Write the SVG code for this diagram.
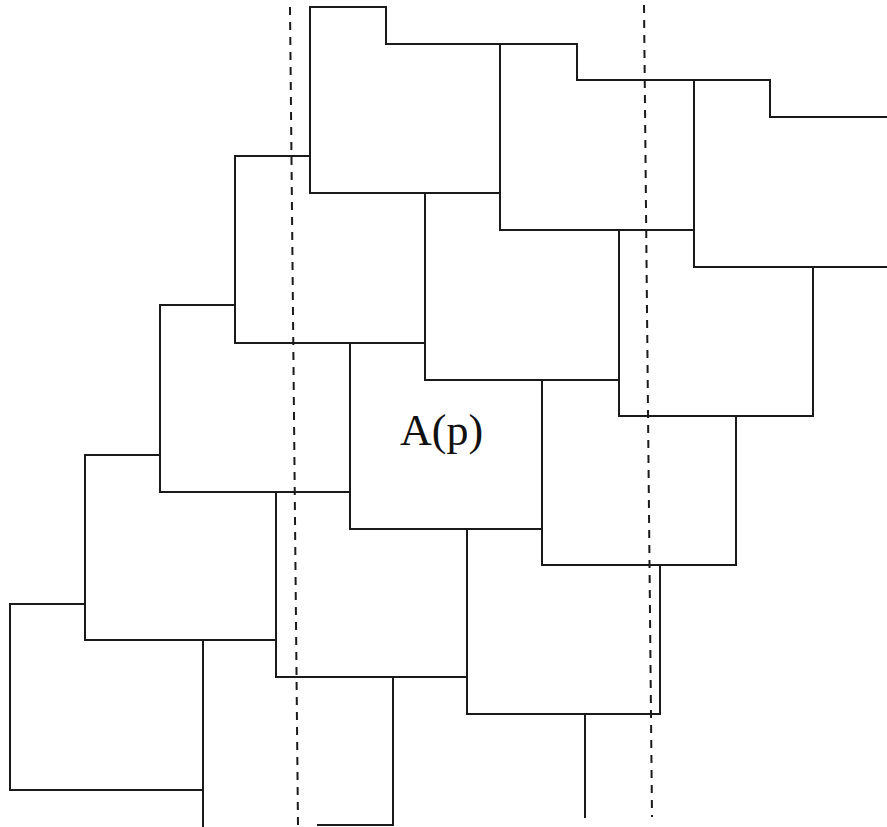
<svg xmlns="http://www.w3.org/2000/svg" width="887" height="827" viewBox="0 0 887 827">
<style>
.e{fill:none;stroke:#1a1a1a;stroke-width:2;stroke-linecap:square;stroke-linejoin:miter}
.d{fill:none;stroke:#1a1a1a;stroke-width:2;stroke-dasharray:8 7}
.t{font-family:"Liberation Serif","Times New Roman",serif;font-size:44px;fill:#111}
</style>
<rect width="887" height="827" fill="#ffffff"/>
<g id="tiles">
<g id="step-0"><path class="e" d="M386,7 V44 H577"/></g>
<g id="step-1"><path class="e" d="M577,44 V80 H770"/></g>
<g id="step-2"><path class="e" d="M770,80 V117 H887"/></g>
<g id="sq-0-0"><path class="e" d="M386,7 H310 V193 H500"/></g>
<g id="sq-1-0"><path class="e" d="M500,44 V230 H694"/></g>
<g id="sq-2-0"><path class="e" d="M694,80 V267 H887"/></g>
<g id="sq-0-1"><path class="e" d="M310,156 H235 V343 H425"/></g>
<g id="sq-1-1"><path class="e" d="M425,193 V380 H619"/></g>
<g id="sq-2-1"><path class="e" d="M619,230 V416 H813 V267"/></g>
<g id="sq-0-2"><path class="e" d="M235,305 H160 V492 H350"/></g>
<g id="sq-1-2"><path class="e" d="M350,343 V529 H542"/></g>
<g id="sq-2-2"><path class="e" d="M542,380 V565 H736 V416"/></g>
<g id="sq-0-3"><path class="e" d="M160,455 H85 V640 H276"/></g>
<g id="sq-1-3"><path class="e" d="M276,492 V677 H467"/></g>
<g id="sq-2-3"><path class="e" d="M467,529 V714 H660 V565"/></g>
<g id="sq-0-4"><path class="e" d="M85,604 H10 V790 H203"/></g>
<g id="sq-1-4"><path class="e" d="M203,640 V827 M318,825 H393"/></g>
<g id="sq-2-4"><path class="e" d="M393,677 V825"/></g>
<g id="sq-3-4"><path class="e" d="M585,714 V817"/></g>
</g>
<g id="guides">
<line class="d" x1="290" y1="7" x2="298" y2="826"/>
<line class="d" x1="644" y1="5" x2="652" y2="817"/>
</g>
<text class="t" x="400" y="445">A(p)</text>
</svg>
